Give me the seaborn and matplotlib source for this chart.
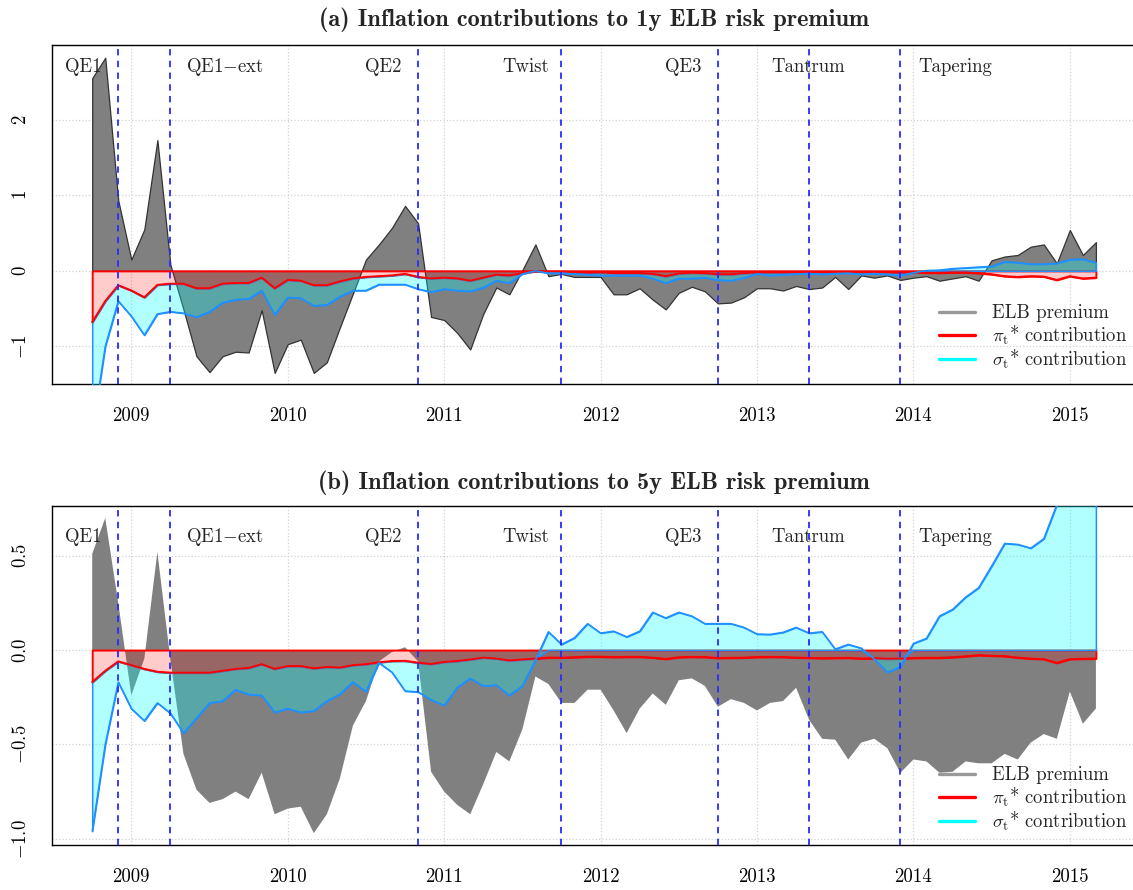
import numpy as np
import pandas as pd
import matplotlib
matplotlib.use("Agg")
import matplotlib.pyplot as plt
from matplotlib.lines import Line2D
import seaborn as sns

# ---------------------------------------------------------------------------
# Monthly sample, Oct 2008 - Mar 2015
# ---------------------------------------------------------------------------
months = pd.date_range("2008-10-01", "2015-03-01", freq="MS")

# (a) 1y horizon: ELB premium and the two inflation contributions
elb_1y = [2.55, 2.82, 0.93, 0.15, 0.55, 1.73, 0.08, -0.51, -1.13, -1.34,
          -1.13, -1.07, -1.08, -0.52, -1.35, -0.97, -0.91, -1.35, -1.21, -0.75,
          -0.30, 0.15, 0.35, 0.57, 0.86, 0.63, -0.61, -0.65, -0.82, -1.04,
          -0.57, -0.22, -0.31, 0.01, 0.35, -0.07, -0.04, -0.08, -0.08, -0.08,
          -0.31, -0.31, -0.23, -0.38, -0.51, -0.29, -0.21, -0.27, -0.43, -0.42,
          -0.35, -0.23, -0.23, -0.26, -0.20, -0.24, -0.22, -0.08, -0.24, -0.06,
          -0.09, -0.06, -0.12, -0.09, -0.07, -0.13, -0.10, -0.07, -0.13, 0.14,
          0.19, 0.21, 0.32, 0.35, 0.10, 0.54, 0.21, 0.38]
pi_1y = [-0.68, -0.40, -0.19, -0.26, -0.35, -0.185, -0.17, -0.17, -0.23, -0.23,
         -0.17, -0.16, -0.16, -0.09, -0.23, -0.12, -0.13, -0.19, -0.19, -0.14,
         -0.10, -0.08, -0.07, -0.06, -0.04, -0.08, -0.10, -0.09, -0.10, -0.13,
         -0.09, -0.05, -0.06, -0.03, -0.005, -0.01, -0.01, -0.02, -0.025, -0.02,
         -0.03, -0.03, -0.03, -0.04, -0.07, -0.035, -0.025, -0.03, -0.045, -0.045,
         -0.03, -0.02, -0.02, -0.02, -0.02, -0.015, -0.02, -0.02, -0.02, -0.02,
         -0.02, -0.02, -0.025, -0.02, -0.025, -0.025, -0.02, -0.02, -0.03, -0.045,
         -0.07, -0.08, -0.07, -0.075, -0.12, -0.07, -0.10, -0.09]
sigma_1y = [-1.47, -0.60, -0.21, -0.34, -0.50, -0.385, -0.37, -0.39, -0.38, -0.31,
            -0.25, -0.22, -0.21, -0.17, -0.35, -0.23, -0.23, -0.27, -0.26, -0.20,
            -0.16, -0.18, -0.11, -0.12, -0.14, -0.16, -0.18, -0.15, -0.16, -0.14,
            -0.13, -0.08, -0.10, -0.01, 0.0, -0.02, -0.02, -0.02, -0.025, -0.04,
            -0.03, -0.03, -0.03, -0.06, -0.09, -0.065, -0.075, -0.06, -0.075, -0.085,
            -0.06, -0.02, -0.04, -0.03, -0.02, -0.02, -0.025, -0.015, -0.01, -0.025,
            -0.015, -0.025, -0.035, -0.005, 0.005, 0.01, 0.03, 0.04, 0.05, 0.06,
            0.12, 0.11, 0.09, 0.09, 0.10, 0.15, 0.155, 0.11]

# (b) 5y horizon
elb_5y = [0.51, 0.70, 0.25, -0.24, -0.045, 0.52, -0.05, -0.55, -0.74, -0.81,
          -0.79, -0.75, -0.79, -0.65, -0.87, -0.84, -0.83, -0.97, -0.87, -0.68,
          -0.40, -0.27, -0.06, -0.01, 0.015, -0.06, -0.645, -0.75, -0.82, -0.87,
          -0.71, -0.54, -0.59, -0.42, -0.14, -0.18, -0.28, -0.28, -0.21, -0.21,
          -0.32, -0.44, -0.31, -0.23, -0.29, -0.16, -0.15, -0.19, -0.30, -0.26,
          -0.28, -0.32, -0.28, -0.27, -0.20, -0.37, -0.47, -0.475, -0.58, -0.49,
          -0.47, -0.52, -0.65, -0.58, -0.59, -0.65, -0.645, -0.59, -0.60, -0.60,
          -0.55, -0.58, -0.49, -0.445, -0.47, -0.22, -0.39, -0.31]
pi_5y = [-0.17, -0.11, -0.06, -0.08, -0.10, -0.115, -0.12, -0.12, -0.12, -0.12,
         -0.11, -0.10, -0.095, -0.075, -0.10, -0.085, -0.085, -0.097, -0.09, -0.093,
         -0.08, -0.075, -0.065, -0.058, -0.057, -0.067, -0.074, -0.063, -0.058, -0.05,
         -0.04, -0.045, -0.055, -0.05, -0.045, -0.04, -0.04, -0.038, -0.035, -0.035,
         -0.037, -0.036, -0.036, -0.04, -0.047, -0.038, -0.036, -0.037, -0.042, -0.041,
         -0.04, -0.037, -0.036, -0.037, -0.04, -0.041, -0.043, -0.042, -0.041, -0.045,
         -0.043, -0.046, -0.045, -0.042, -0.041, -0.041, -0.038, -0.033, -0.027, -0.03,
         -0.032, -0.04, -0.045, -0.048, -0.068, -0.048, -0.046, -0.045]
sigma_5y = [-0.79, -0.39, -0.11, -0.23, -0.275, -0.165, -0.215, -0.32, -0.24, -0.16,
            -0.16, -0.11, -0.14, -0.165, -0.23, -0.225, -0.245, -0.225, -0.18, -0.14,
            -0.09, -0.145, -0.002, -0.06, -0.16, -0.155, -0.19, -0.23, -0.14, -0.10,
            -0.15, -0.14, -0.185, -0.14, -0.008, 0.097, 0.03, 0.065, 0.14, 0.09,
            0.10, 0.07, 0.10, 0.20, 0.17, 0.20, 0.18, 0.14, 0.14, 0.14,
            0.12, 0.085, 0.083, 0.094, 0.12, 0.09, 0.097, 0.005, 0.03, 0.01,
            -0.005, -0.072, -0.044, 0.035, 0.062, 0.18, 0.215, 0.28, 0.33, 0.445,
            0.565, 0.56, 0.54, 0.59, 0.77, 0.95, 1.0, 1.05]

# Policy events (decimal years) and their names
event_dates = [2008.914, 2009.247, 2010.832, 2011.747, 2012.749, 2013.330, 2013.917]
event_names = ["QE1", "QE1$-$ext", "QE2", "Twist", "QE3", "Tantrum", "Tapering"]
year_ticks = [2009, 2010, 2011, 2012, 2013, 2014, 2015]

# Where the event names sit along the time axis
event_label_x = [2008.69, 2009.60, 2010.61, 2011.52, 2012.53, 2013.33, 2014.27]

titles = ["(a) Inflation contributions to 1y ELB risk premium",
          "(b) Inflation contributions to 5y ELB risk premium"]
legend_labels = ["ELB premium",
                 r"$\pi_{\mathrm{t}}$* contribution",
                 r"$\sigma_{\mathrm{t}}$* contribution"]

# ---------------------------------------------------------------------------
sns.set_style("white")
plt.rcParams.update({
    "font.family": ["cmr10"],
    "mathtext.fontset": "cm",
    "mathtext.default": "rm",
    "axes.unicode_minus": False,
    "axes.linewidth": 1.0,
    "axes.edgecolor": "black",
})

t = np.asarray(months.year + (months.month - 1) / 12.0, dtype=float)

W, H = 1133, 890
fig = plt.figure(figsize=(W / 100, H / 100), dpi=100)

ax_a = fig.add_axes([52 / W, 1 - 384 / H, (1136 - 52) / W, (384 - 44.7) / H])
ax_b = fig.add_axes([52 / W, 1 - 845 / H, (1136 - 52) / W, (845 - 505.7) / H])

BLUE_LINE = "#1e90ff"


def draw_panel(ax, elb, pi, sigma, ylim, yticks, yticklabels, label_y,
               elb_edge, title, title_y, legend_y):
    elb = np.asarray(elb, dtype=float)
    pi = np.asarray(pi, dtype=float)
    sigma = np.asarray(sigma, dtype=float)

    # negative parts stack downward from zero, positive parts upward
    base = np.where(sigma < 0, np.minimum(pi, 0), np.maximum(pi, 0))
    total = base + sigma

    ax.fill_between(t, 0, elb, facecolor="#808080", edgecolor=elb_edge,
                    linewidth=0.9, zorder=2)
    ax.fill_between(t, 0, pi, facecolor=(1, 0, 0, 0.2), edgecolor="red",
                    linewidth=1.4, zorder=3)
    ax.fill_between(t, base, total, facecolor=(0, 1, 1, 0.3),
                    edgecolor=BLUE_LINE, linewidth=1.1, zorder=4)

    df = pd.DataFrame({"t": t, "pi": pi, "total": total})
    sns.lineplot(data=df, x="t", y="pi", color="red", linewidth=1.4,
                 ax=ax, zorder=5, legend=False)
    sns.lineplot(data=df, x="t", y="total", color=BLUE_LINE, linewidth=1.1,
                 ax=ax, zorder=5, legend=False)

    for d in event_dates:
        ax.axvline(d, color="#2a2aff", linestyle=(0, (3.5, 3)), linewidth=1.3,
                   zorder=6)
    for x, name in zip(event_label_x, event_names):
        ax.text(x, label_y, name, ha="center", va="center", fontsize=13.5,
                zorder=7)

    ax.set_xlim(2008.493, 2015.423)
    ax.set_ylim(*ylim)
    ax.set_xticks(year_ticks)
    ax.set_xticklabels([str(y) for y in year_ticks])
    ax.set_yticks(yticks)
    ax.set_yticklabels(yticklabels, rotation=90, va="center")
    ax.set_xlabel("")
    ax.set_ylabel("")
    ax.grid(True, linestyle=":", color="#d2d2d2", linewidth=0.9)
    ax.set_axisbelow(True)
    ax.tick_params(axis="both", direction="out", length=8.5, width=0.9,
                   labelsize=13.5, colors="black")
    ax.tick_params(axis="x", pad=8)
    ax.tick_params(axis="y", pad=7)
    for side in ["left", "top", "bottom", "right"]:
        ax.spines[side].set_visible(True)
        ax.spines[side].set_color("black")
        ax.spines[side].set_linewidth(1.0)

    handles = [Line2D([], [], color="#999999", linewidth=2.4),
               Line2D([], [], color="red", linewidth=2.4),
               Line2D([], [], color="cyan", linewidth=2.4)]
    ax.legend(handles, legend_labels, loc="lower right",
              bbox_to_anchor=(1127 / W, 1 - legend_y / H),
              bbox_transform=fig.transFigure, frameon=False, fontsize=13.5,
              handlelength=1.9, handletextpad=0.9, labelspacing=0.0,
              borderaxespad=0, borderpad=0)

    fig.text(594 / W, 1 - title_y / H, title, ha="center", va="center",
             fontsize=17.5, family="cmb10")


draw_panel(ax_a, elb_1y, pi_1y, sigma_1y, (-1.497, 2.993), [-1, 0, 1, 2],
           ["$-1$", "$0$", "$1$", "$2$"], 2.70, "#333333",
           titles[0], 20, 371)
draw_panel(ax_b, elb_5y, pi_5y, sigma_5y, (-1.033, 0.765), [-1.0, -0.5, 0.0, 0.5],
           ["$-1.0$", "$-0.5$", "$0.0$", "$0.5$"], 0.60, "none",
           titles[1], 483, 833)

fig.savefig("out.png", dpi=100)
